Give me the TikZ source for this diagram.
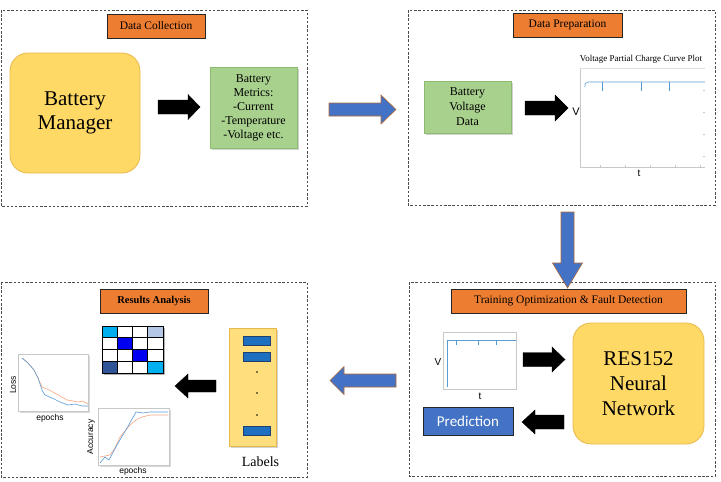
\documentclass[tikz,border=0pt]{standalone}
\usepackage{fontspec}
\setmainfont{Liberation Serif}
\newfontfamily\arialf{Liberation Sans}
\newfontfamily\calibrif{Carlito}
\usetikzlibrary{shadows}
\definecolor{titleorange}{HTML}{ED7D31}
\definecolor{boxyellow}{HTML}{FFD966}
\definecolor{yellowedge}{HTML}{E8B84A}
\definecolor{boxgreen}{HTML}{A9D18E}
\definecolor{greenedge}{HTML}{8DBB70}
\definecolor{arrowblue}{HTML}{4472C4}
\definecolor{arrowedge}{HTML}{B06A3A}
\definecolor{plotblue}{HTML}{5B9BD5}
\definecolor{plotorange}{HTML}{F4A582}
\definecolor{barblue}{HTML}{1F6FC0}
\definecolor{baredge}{HTML}{1F3F6F}
\definecolor{gridgrey}{HTML}{C8C8C8}
\newcommand{\hblk}[7]{% style, tail x, tip x, center y, shaft half, head half, head length (signed)
  \filldraw[#1] ({#2},{#4-#5}) -- ({#3-#7},{#4-#5}) -- ({#3-#7},{#4-#6}) -- ({#3},{#4})
   -- ({#3-#7},{#4+#6}) -- ({#3-#7},{#4+#5}) -- ({#2},{#4+#5}) -- cycle;}
\newcommand{\vblk}[7]{% style, tail y, tip y, center x, shaft half, head half, head length
  \filldraw[#1] ({#4-#5},{#2}) -- ({#4-#5},{#3-#7}) -- ({#4-#6},{#3-#7}) -- ({#4},{#3})
   -- ({#4+#6},{#3-#7}) -- ({#4+#5},{#3-#7}) -- ({#4+#5},{#2}) -- cycle;}
\tikzset{
  panel/.style={draw=black!70, line width=0.7pt, dash pattern=on 2.5pt off 1.7pt},
  titlebox/.style={draw=black!85, line width=0.9pt, fill=titleorange, inner sep=0pt,
     minimum height=24pt, font=\fontsize{11.5}{13}\selectfont},
  yellowbox/.style={draw=yellowedge, line width=0.8pt, fill=boxyellow, rounded corners=18pt,
     inner sep=0pt, align=center, font=\fontsize{21}{26}\selectfont},
  greenbox/.style={draw=greenedge, line width=0.6pt, fill=boxgreen, inner sep=0pt, align=center,
     drop shadow={shadow xshift=1.5pt, shadow yshift=-1.5pt, opacity=0.35},
     font=\fontsize{12}{14}\selectfont},
  blackarrow/.style={fill=black, draw=black},
  bluearrow/.style={fill=arrowblue, draw=arrowedge, line width=0.6pt},
  plotframe/.style={draw=gridgrey, line width=0.5pt},
  plotline/.style={draw=plotblue, line width=0.6pt},
  orangeline/.style={draw=plotorange, line width=0.6pt},
  axislabel/.style={font=\arialf\fontsize{9}{10}\selectfont, inner sep=0pt},
  labelbar/.style={draw=baredge, line width=0.6pt, fill=barblue, minimum width=27pt,
     minimum height=9pt, inner sep=0pt,
     drop shadow={shadow xshift=1pt, shadow yshift=-1pt, opacity=0.35}},
  cell/.style={draw=black, line width=1pt, minimum width=15.25pt, minimum height=11.75pt, inner sep=0pt}
}
\begin{document}
\begin{tikzpicture}[x=1pt,y=-1pt]
\useasboundingbox (0,0) rectangle (721,482);
\fill[white] (0,0) rectangle (721,482);

% ---------- Panels ----------
\draw[panel] (1,10) rectangle (307,206);
\draw[panel] (408,10) rectangle (715,205);
\draw[panel] (1,282) rectangle (307,477);
\draw[panel] (409,282) rectangle (715,476);

% ---------- Data Collection ----------
\node[titlebox, minimum width=98pt] (t1) at (156,26) {Data Collection};
\node[yellowbox, minimum width=130pt, minimum height=120pt] (bm) at (75,113) {Battery\\[-2pt]Manager};
\node[greenbox, minimum width=87pt, minimum height=81pt] (metrics) at (253.5,107.5)
  {Battery\\Metrics:\\-Current\\-Temperature\\-Voltage etc.};
\hblk{blackarrow}{158}{200}{107}{7}{12.5}{12}

% ---------- Data Preparation ----------
\node[titlebox, minimum width=109pt] (t2) at (567.5,25) {Data Preparation};
\node[greenbox, minimum width=87pt, minimum height=52pt, font=\fontsize{12}{15}\selectfont]
  (bvd) at (467.5,107) {Battery\\Voltage\\Data};
\hblk{blackarrow}{525}{568}{108}{7}{13}{13}
\node[font=\fontsize{9}{10}\selectfont, inner sep=0pt] (ptitle) at (641,59) {Voltage Partial Charge Curve Plot};
\draw[gridgrey, line width=0.4pt] (580,68) -- (580,167) -- (705,167);
\draw[gridgrey!60, line width=0.3pt] (580,68) -- (705,68);
\foreach \xx in {600,625,650,675,700} \draw[gridgrey] (\xx,167) -- (\xx,165);
\foreach \yy in {90,112,134,156} \draw[gridgrey] (705,\yy) -- (703,\yy);
\draw[plotline] (585,87) .. controls (585,83) .. (588,82) -- (705,82);
\foreach \xx in {602,641,669} \draw[plotline] (\xx,82) -- (\xx,91);
\node[axislabel, font=\arialf\fontsize{11}{12}\selectfont] (v1) at (576,112) {V};
\node[axislabel, font=\arialf\fontsize{10}{11}\selectfont] (t1x) at (639,173) {t};

% ---------- Inter-panel blue arrows ----------
\hblk{bluearrow}{329}{396}{109.5}{6.5}{14.5}{15}
\vblk{bluearrow}{212}{288}{567.5}{6.5}{15}{25}
\hblk{bluearrow}{396}{330}{380.5}{6.5}{14}{-14}

% ---------- Training Optimization & Fault Detection ----------
\node[titlebox, minimum width=235pt] (t4) at (568.5,301) {Training Optimization \& Fault Detection};
\node[yellowbox, minimum width=131pt, minimum height=121pt, font=\fontsize{21}{25}\selectfont]
  (res) at (638.5,383.5) {RES152\\Neural\\Network};
\draw[plotframe] (443,332) rectangle (516,389);
\draw[plotline] (447,387) -- (447,340) -- (516,340);
\foreach \xx in {456,478,496} \draw[plotline, line width=0.4pt] (\xx,340) -- (\xx,345);
\node[axislabel, font=\arialf\fontsize{10}{11}\selectfont] (v2) at (438,362) {V};
\node[axislabel, font=\arialf\fontsize{10}{11}\selectfont] (t2x) at (480,396) {t};
\hblk{blackarrow}{523}{565}{359.5}{7}{12.5}{13}
\hblk{blackarrow}{564}{522}{422}{7}{12}{-13}
\node[draw=black!85, line width=0.9pt, fill=arrowblue, text=white, minimum width=90pt,
  minimum height=28pt, inner sep=0pt, font=\calibrif\fontsize{15}{17}\selectfont]
  (pred) at (468,421) {Prediction};

% ---------- Results Analysis ----------
\node[titlebox, minimum width=108pt, font=\bfseries\fontsize{10.5}{12}\selectfont] (t3) at (154,301) {Results Analysis};
% confusion matrix
\fill[black, opacity=0.3] (103.5,327.5) rectangle (164.5,374.5);
\foreach \r/\c/\col in {
  0/0/cyan, 0/1/white, 0/2/white, 0/3/{rgb,255:red,180;green,199;blue,231},
  1/0/white, 1/1/{rgb,255:red,0;green,0;blue,240}, 1/2/white, 1/3/white,
  2/0/white, 2/1/white, 2/2/{rgb,255:red,0;green,0;blue,240}, 2/3/white,
  3/0/{rgb,255:red,47;green,85;blue,151}, 3/1/white, 3/2/white, 3/3/{rgb,255:red,0;green,176;blue,240}}
  \node[cell, fill=\col] (m\r\c) at ({102+15.25*\c+7.625},{326+11.75*\r+5.875}) {};
\hblk{blackarrow}{216}{175}{386}{6}{12}{-13}
% labels box
\node[draw=yellowedge, line width=0.6pt, fill=boxyellow!85, minimum width=47pt, minimum height=118pt,
  inner sep=0pt, drop shadow={shadow xshift=1.5pt, shadow yshift=-1.5pt, opacity=0.35}]
  (lbox) at (252.5,387) {};
\node[labelbar] (b1) at (256.5,340.5) {};
\node[labelbar] (b2) at (256.5,356.5) {};
\node[labelbar] (b3) at (256.5,430.5) {};
\foreach \yy in {372,393,415} \fill[black] (257,\yy) circle (0.9pt);
\node[font=\fontsize{14}{16}\selectfont, inner sep=0pt] (labels) at (260.5,462) {Labels};
% loss plot
\fill[black, opacity=0.15] (19.5,355.5) rectangle (90,412.5);
\filldraw[draw=gridgrey, fill=white, line width=0.5pt] (18,354) rectangle (88.5,411);
\draw[orangeline] (22,358) -- (28,363) -- (34,370) -- (38,378) -- (42,387) -- (47,389) -- (53,392)
  -- (60,396) -- (67,400) -- (73,401) -- (78,402) -- (83,401) -- (88,404);
\draw[plotline] (22,358) -- (28,363) -- (34,370) -- (38,378) -- (42,390) -- (45,395) -- (52,398)
  -- (60,402) -- (68,405) -- (75,404) -- (82,406) -- (88,406);
\node[axislabel, rotate=90, font=\arialf\fontsize{8.5}{10}\selectfont] (lossl) at (13,385) {Loss};
\node[axislabel, font=\arialf\fontsize{8.5}{10}\selectfont] (ep1) at (50,418) {epochs};
% accuracy plot
\fill[black, opacity=0.15] (99.5,409.5) rectangle (170.5,466.5);
\filldraw[draw=gridgrey, fill=white, line width=0.5pt] (98,408) rectangle (169,465);
\draw[orangeline] (100,457) -- (110,455) -- (115,448) -- (120,437) -- (130,425) -- (136,420)
  -- (142,417) -- (150,415) -- (168,415);
\draw[plotline] (100,463) -- (105,457) -- (109,460) -- (117,445) -- (127,428) -- (136,412)
  -- (143,413) -- (150,412) -- (168,412);
\node[axislabel, rotate=90, font=\arialf\fontsize{8.5}{10}\selectfont] (accl) at (91,437) {Accuracy};
\node[axislabel, font=\arialf\fontsize{8.5}{10}\selectfont] (ep2) at (133,471) {epochs};
\end{tikzpicture}
\end{document}
